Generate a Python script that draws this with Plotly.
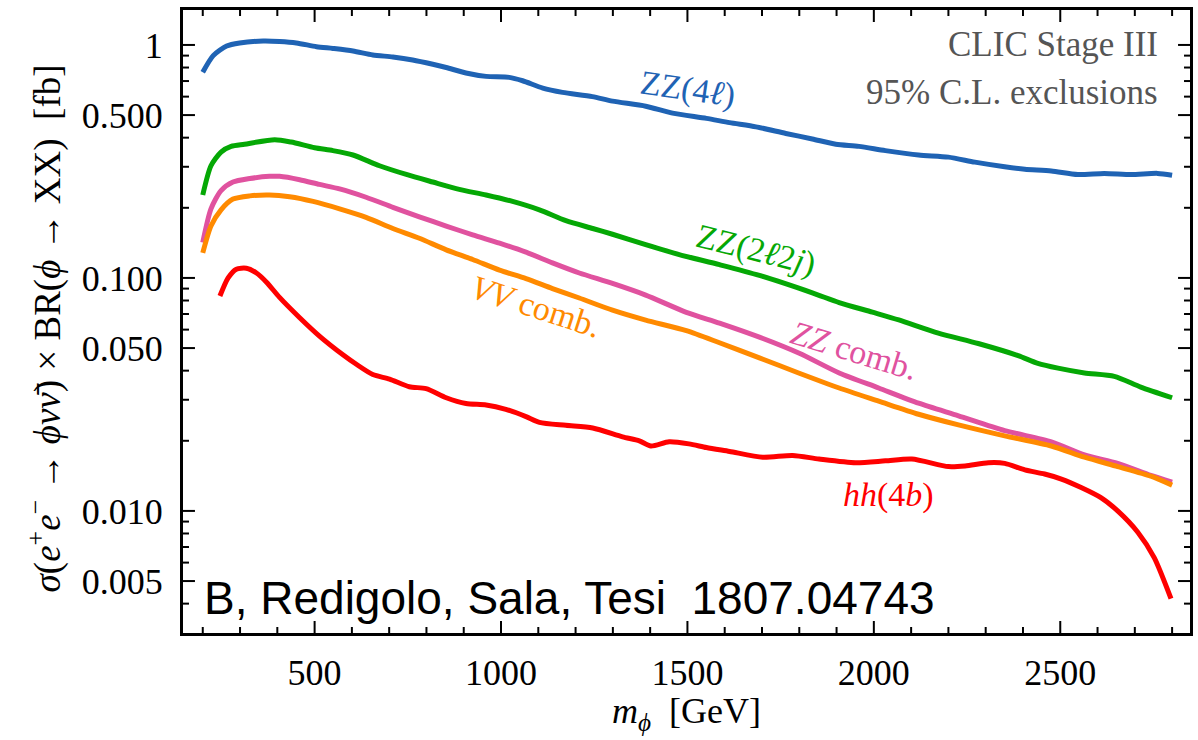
import plotly.graph_objects as go

# Mass points (GeV) and 95% C.L. excluded sigma x BR (fb) for each channel
m_zz4l = [200, 228, 264, 299, 362, 406, 451, 505, 549, 603, 656, 710, 763, 817, 853, 906, 960,
          1022, 1058, 1112, 1165, 1245, 1299, 1388, 1460, 1551, 1613, 1684, 1764, 1835, 1898,
          1960, 2031, 2120, 2200, 2271, 2351, 2405, 2476, 2547, 2618, 2690, 2761, 2800]
s_zz4l = [0.764, 0.90, 0.99, 1.02, 1.04, 1.035, 1.02, 0.983, 0.966, 0.942, 0.906, 0.888, 0.862,
          0.826, 0.80, 0.758, 0.733, 0.726, 0.702, 0.653, 0.626, 0.60, 0.574, 0.546, 0.51, 0.484,
          0.464, 0.445, 0.417, 0.395, 0.375, 0.367, 0.352, 0.337, 0.33, 0.314, 0.30, 0.293,
          0.288, 0.278, 0.281, 0.278, 0.281, 0.276]

m_zz2l2j = [200, 222, 249, 276, 312, 393, 437, 500, 549, 603, 674, 746, 817, 888, 960, 1031,
            1103, 1174, 1246, 1299, 1388, 1478, 1586, 1693, 1835, 1907, 1996, 2067, 2173, 2280,
            2387, 2440, 2494, 2565, 2645, 2716, 2800]
s_zz2l2j = [0.227, 0.303, 0.347, 0.367, 0.375, 0.392, 0.383, 0.362, 0.352, 0.337, 0.303, 0.278,
            0.258, 0.24, 0.227, 0.213, 0.196, 0.176, 0.163, 0.154, 0.139, 0.126, 0.114, 0.1025,
            0.0863, 0.0784, 0.0713, 0.066, 0.058, 0.0523, 0.0464, 0.043, 0.041, 0.0391, 0.0378,
            0.034, 0.0306]

m_zzcomb = [200, 222, 249, 281, 326, 379, 406, 460, 513, 567, 638, 710, 781, 853, 924, 996,
            1067, 1138, 1210, 1299, 1388, 1497, 1586, 1693, 1800, 1907, 2013, 2120, 2227, 2351,
            2476, 2565, 2654, 2743, 2800]
s_zzcomb = [0.142, 0.198, 0.237, 0.258, 0.267, 0.273, 0.273, 0.264, 0.252, 0.241, 0.222, 0.201,
            0.183, 0.167, 0.153, 0.141, 0.129, 0.116, 0.105, 0.0947, 0.0844, 0.0712, 0.064,
            0.0557, 0.0475, 0.0391, 0.0337, 0.029, 0.0256, 0.0221, 0.0198, 0.0174, 0.016,
            0.0142, 0.0133]

m_vvcomb = [200, 222, 249, 281, 326, 379, 433, 496, 567, 638, 710, 781, 853, 924, 996, 1067,
            1138, 1210, 1299, 1388, 1497, 1586, 1693, 1800, 1907, 2013, 2120, 2227, 2351, 2476,
            2565, 2654, 2743, 2800]
s_vvcomb = [0.128, 0.167, 0.196, 0.218, 0.225, 0.227, 0.223, 0.213, 0.198, 0.182, 0.163, 0.148,
            0.132, 0.12, 0.108, 0.0993, 0.09, 0.082, 0.0727, 0.0659, 0.0594, 0.0527, 0.0454,
            0.039, 0.0337, 0.0296, 0.026, 0.0234, 0.021, 0.019, 0.017, 0.0155, 0.0141, 0.0129]

m_hh4b = [246, 268, 290, 317, 344, 371, 406, 460, 513, 576, 612, 656, 701, 754, 799, 853, 906,
          960, 1013, 1067, 1103, 1174, 1246, 1326, 1371, 1402, 1451, 1504, 1551, 1613, 1702,
          1782, 1853, 1951, 2031, 2102, 2200, 2245, 2307, 2351, 2405, 2458, 2503, 2556, 2609,
          2654, 2708, 2752, 2797]
s_hh4b = [0.0836, 0.100, 0.109, 0.110, 0.105, 0.0959, 0.0825, 0.0675, 0.0563, 0.0468, 0.0426,
          0.0385, 0.0368, 0.0341, 0.0335, 0.0306, 0.0289, 0.0285, 0.0273, 0.0254, 0.024, 0.0233,
          0.0227, 0.0208, 0.0200, 0.0190, 0.0198, 0.0194, 0.0187, 0.018, 0.0170, 0.0173, 0.0167,
          0.0161, 0.0164, 0.0167, 0.0155, 0.0156, 0.0161, 0.016, 0.015, 0.0144, 0.0137, 0.0126,
          0.0114, 0.0100, 0.0081, 0.0063, 0.0042]

# Axis ticks
x_major = [500, 1000, 1500, 2000, 2500]
x_minor = [v for v in range(200, 2900, 100) if v % 500 != 0]
y_major = [1, 0.5, 0.1, 0.05, 0.01, 0.005]
y_major_text = ["1", "0.500", "0.100", "0.050", "0.010", "0.005"]
y_minor = [0.9, 0.8, 0.7, 0.6, 0.4, 0.3, 0.2, 0.09, 0.08, 0.07, 0.06, 0.04, 0.03, 0.02,
           0.009, 0.008, 0.007, 0.006, 0.004]

X_RANGE = [147, 2848]
Y_RANGE = [-2.524, 0.150]          # log10 units
PLOT_W, PLOT_H = 1010, 623         # plot area in pixels
MAJOR_LEN, MINOR_LEN = 12, 6       # tick lengths in pixels

series = [
    (m_zz4l, s_zz4l, "#1f63b4"),
    (m_zz2l2j, s_zz2l2j, "#05a805"),
    (m_zzcomb, s_zzcomb, "#e0529f"),
    (m_vvcomb, s_vvcomb, "#ff8a00"),
    (m_hh4b, s_hh4b, "#ff0000"),
]

fig = go.Figure()
for xs, ys, col in series:
    fig.add_trace(go.Scatter(x=xs, y=ys, mode="lines",
                             line=dict(color=col, width=5, shape="spline", smoothing=0.7),
                             showlegend=False, hoverinfo="skip"))

# Frame ticks on all four sides (inward), built as one line trace
gev_per_px = (X_RANGE[1] - X_RANGE[0]) / PLOT_W
dec_per_px = (Y_RANGE[1] - Y_RANGE[0]) / PLOT_H
tx, ty = [], []
for vals, n in ((x_major, MAJOR_LEN), (x_minor, MINOR_LEN)):
    for v in vals:
        tx += [v, v, None, v, v, None]
        ty += [10 ** Y_RANGE[0], 10 ** (Y_RANGE[0] + n * dec_per_px), None,
               10 ** Y_RANGE[1], 10 ** (Y_RANGE[1] - n * dec_per_px), None]
for vals, n in ((y_major, MAJOR_LEN), (y_minor, MINOR_LEN)):
    for v in vals:
        tx += [X_RANGE[0], X_RANGE[0] + n * gev_per_px, None,
               X_RANGE[1], X_RANGE[1] - n * gev_per_px, None]
        ty += [v, v, None, v, v, None]
fig.add_trace(go.Scatter(x=tx, y=ty, mode="lines", line=dict(color="black", width=2),
                         showlegend=False, hoverinfo="skip", cliponaxis=False))

serif = "Liberation Serif, Times New Roman, serif"
sans = "Liberation Sans, Arial, sans-serif"

fig.update_layout(
    xaxis=dict(range=X_RANGE, tickmode="array", tickvals=x_major,
               ticktext=[str(v) for v in x_major], ticks="", ticklabelstandoff=6,
               showline=True, linecolor="black", linewidth=3, mirror=True,
               showgrid=False, zeroline=False,
               tickfont=dict(family=serif, size=36, color="black")),
    yaxis=dict(type="log", range=Y_RANGE, tickmode="array", tickvals=y_major,
               ticktext=y_major_text, ticks="", ticklabelstandoff=10,
               showline=True, linecolor="black", linewidth=3, mirror=True,
               showgrid=False, zeroline=False,
               tickfont=dict(family=serif, size=36, color="black")),
)

annotations = [
    # curve labels
    dict(x=1500, y=-0.19, text="ZZ(4<i>ℓ</i>)", color="#1f63b4", angle=8),
    dict(x=1684, y=-0.88, text="ZZ(2<i>ℓ</i>2<i>j</i>)", color="#05a805", angle=14),
    dict(x=1094, y=-1.124, text="<i>VV</i> comb.", color="#ff8a00", angle=18),
    dict(x=1947, y=-1.313, text="<i>ZZ</i> comb.", color="#e0529f", angle=17),
    dict(x=2040, y=-1.93, text="<i>hh</i>(4<i>b</i>)", color="#ff0000", angle=0),
]
for a in annotations:
    fig.add_annotation(x=a["x"], y=a["y"], xref="x", yref="y", text=a["text"],
                       showarrow=False, textangle=a["angle"],
                       font=dict(family=serif, size=34, color=a["color"]))

fig.add_annotation(x=0.9703, y=1 - (44 - 10) / 623, xref="paper", yref="paper",
                   text="CLIC Stage III", showarrow=False, xanchor="right", yanchor="middle",
                   font=dict(family=serif, size=35, color="#555555"))
fig.add_annotation(x=0.9703, y=1 - (92 - 10) / 623, xref="paper", yref="paper",
                   text="95% C.L. exclusions", showarrow=False, xanchor="right",
                   yanchor="middle", font=dict(family=serif, size=35, color="#555555"))
fig.add_annotation(x=0.0188, y=1 - (598 - 10) / 623, xref="paper", yref="paper",
                   text="B, Redigolo, Sala, Tesi  1807.04743", showarrow=False,
                   xanchor="left", yanchor="middle",
                   font=dict(family=sans, size=46, color="black"))

# axis titles
fig.add_annotation(x=0.5, y=1 - (713 - 10) / 623, xref="paper", yref="paper",
                   text="<i>m</i><sub><i>ϕ</i></sub>  [GeV]", showarrow=False,
                   xanchor="center", yanchor="middle",
                   font=dict(family=serif, size=36, color="black"))
fig.add_annotation(x=(45 - 183) / 1010, y=1 - (328 - 10) / 623, xref="paper", yref="paper",
                   text="<i>σ</i>(<i>e</i><sup>+</sup><i>e</i><sup>−</sup> → <i>ϕνν̄</i>) × "
                        "BR(<i>ϕ</i> → XX)  [fb]",
                   showarrow=False, textangle=-90, xanchor="center", yanchor="middle",
                   font=dict(family=serif, size=37, color="black"))

fig.update_layout(width=1198, height=740, margin=dict(l=183, r=5, t=10, b=107),
                  plot_bgcolor="white", paper_bgcolor="white")

fig.write_html("out.html")
